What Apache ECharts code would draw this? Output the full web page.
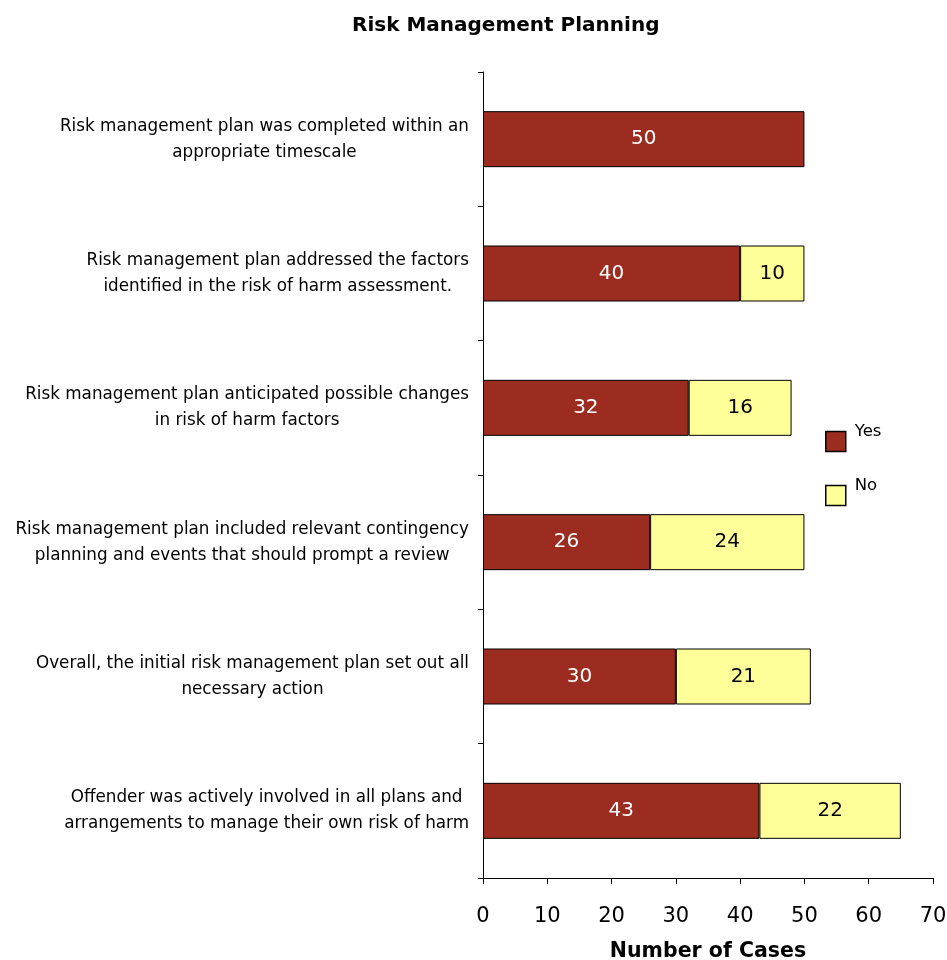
<!DOCTYPE html>
<html>
<head>
<meta charset="utf-8">
<script src="https://cdn.jsdelivr.net/npm/echarts@6/dist/echarts.min.js"></script>
<style>
  html, body { margin: 0; padding: 0; background: #fff; }
  #chart { width: 947px; height: 960px; }
</style>
</head>
<body>
<div id="chart"></div>
<script>
// Plan quality questions (top to bottom)
const categories = [
  'Risk management plan was completed within an\nappropriate timescale',
  'Risk management plan addressed the factors\nidentified in the risk of harm assessment.',
  'Risk management plan anticipated possible changes\nin risk of harm factors',
  'Risk management plan included relevant contingency\nplanning and events that should prompt a review',
  'Overall, the initial risk management plan set out all\nnecessary action',
  'Offender was actively involved in all plans and\narrangements to manage their own risk of harm'
];
const yesValues = [50, 40, 32, 26, 30, 43];
const noValues = [null, 10, 16, 24, 21, 22];
const xTicks = [0, 10, 20, 30, 40, 50, 60, 70];

const FONT = 'DejaVu Sans';
const chart = echarts.init(document.getElementById('chart'));

chart.setOption({
  backgroundColor: '#ffffff',
  animation: false,
  textStyle: { fontFamily: FONT, color: '#000' },
  title: {
    text: 'Risk Management Planning',
    left: 347,
    top: 11,
    textStyle: { fontFamily: FONT, fontSize: 20, fontWeight: 'bold', color: '#000' }
  },
  legend: {
    orient: 'vertical',
    left: 820,
    top: 418,
    itemWidth: 20,
    itemHeight: 20,
    itemGap: 17,
    icon: 'rect',
    data: ['Yes', 'No'],
    itemStyle: { borderColor: '#000', borderWidth: 1.5 },
    formatter: function (n) { return '{t|' + n + '}\n{t| }'; },
    textStyle: {
      color: '#000',
      rich: { t: { fontFamily: FONT, fontSize: 16.5, color: '#000', lineHeight: 20, padding: [0, 0, 0, 4] } }
    }
  },
  grid: { left: 483, right: 14, top: 72, bottom: 82, containLabel: false, outerBoundsMode: 'none' },
  xAxis: {
    type: 'value',
    min: xTicks[0],
    max: xTicks[xTicks.length - 1],
    interval: 10,
    name: 'Number of Cases',
    nameLocation: 'middle',
    nameGap: 63,
    nameTextStyle: { fontFamily: FONT, fontSize: 20.5, fontWeight: 'bold', color: '#000' },
    axisLine: { show: true, lineStyle: { color: '#000', width: 1 } },
    axisTick: { show: true, length: 6, lineStyle: { color: '#000' } },
    axisLabel: { fontFamily: FONT, fontSize: 21, color: '#000', margin: 28 },
    splitLine: { show: false }
  },
  yAxis: {
    type: 'category',
    inverse: true,
    data: categories,
    axisLine: { show: true, lineStyle: { color: '#000', width: 1 } },
    axisTick: { show: true, length: 5, lineStyle: { color: '#000' } },
    axisLabel: {
      margin: 14,
      align: 'right',
      formatter: function (v) {
        return v.split('\n').map(function (l) { return '{c|' + l + '}'; }).join('\n');
      },
      rich: {
        c: { fontFamily: FONT, fontSize: 16.8, color: '#000', align: 'center', lineHeight: 26 }
      }
    }
  },
  series: [
    {
      name: 'Yes',
      type: 'bar',
      stack: 'total',
      barWidth: 56,
      data: yesValues,
      itemStyle: { color: '#9B2C1F', borderColor: '#000', borderWidth: 1 },
      label: {
        show: true,
        position: 'inside',
        color: '#fff',
        fontFamily: FONT,
        fontSize: 20
      }
    },
    {
      name: 'No',
      type: 'bar',
      stack: 'total',
      barWidth: 56,
      data: noValues,
      itemStyle: { color: '#FFFF99', borderColor: '#000', borderWidth: 1 },
      label: {
        show: true,
        position: 'inside',
        color: '#000',
        fontFamily: FONT,
        fontSize: 20
      }
    }
  ]
});
</script>
</body>
</html>
